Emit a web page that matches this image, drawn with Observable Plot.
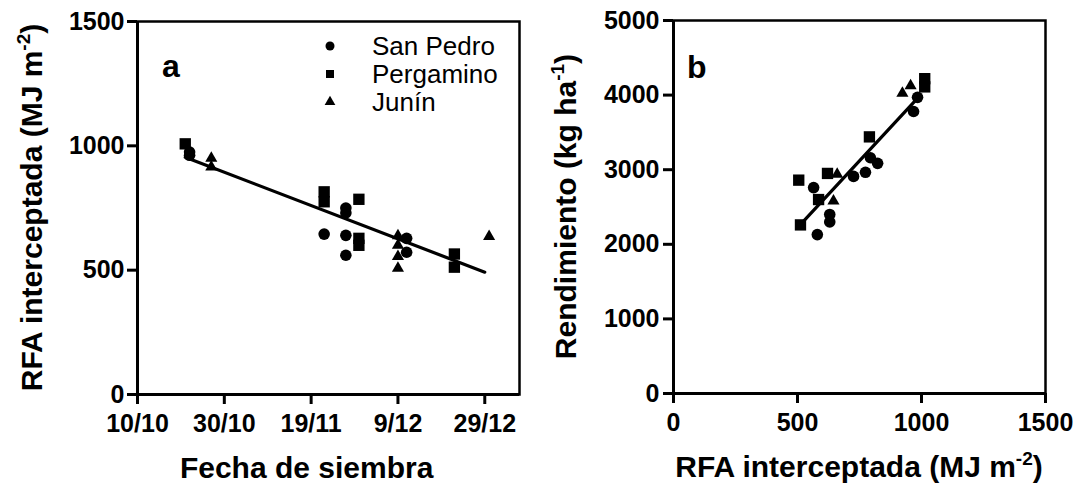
<!DOCTYPE html>
<html><head><meta charset="utf-8">
<script src="https://cdn.jsdelivr.net/npm/d3@7"></script>
<script src="https://cdn.jsdelivr.net/npm/@observablehq/plot@0.6"></script>
<style>
body{margin:0;background:#fff;}
#wrap{position:relative;width:1087px;height:486px;background:#fff;}
#wrap svg{position:absolute;top:0;overflow:visible;}
</style></head><body><div id="wrap"></div>
<script>
// ---------- Panel a : Fecha de siembra vs RFA interceptada ----------
const xDomainA = ["2011-10-10","2012-01-06"];
const tickDatesA = ["2011-10-10","2011-10-30","2011-11-19","2011-12-09","2011-12-29"];
const tickLabelsA = ["10/10","30/10","19/11","9/12","29/12"];
const yTicksA = [0,500,1000,1500];

const sanPedroDateA = ["2011-10-22","2011-10-22","2011-11-22","2011-11-27","2011-11-27","2011-11-27","2011-11-27","2011-12-11","2011-12-11"];
const sanPedroRfaA  = [975,962,645,750,730,640,560,628,572];
const pergaminoDateA = ["2011-10-21","2011-11-22","2011-11-22","2011-11-30","2011-11-30","2011-11-30","2011-12-22","2011-12-22"];
const pergaminoRfaA  = [1008,815,775,785,628,600,565,512];
const juninDateA = ["2011-10-27","2011-10-27","2011-12-09","2011-12-09","2011-12-09","2011-12-09","2011-12-30"];
const juninRfaA  = [950,915,638,600,555,508,635];
const fitDateA = ["2011-10-21","2011-12-29"];
const fitRfaA  = [954,492];

// ---------- Panel b : RFA interceptada vs Rendimiento ----------
const xTicksB = [0,500,1000,1500];
const yTicksB = [0,1000,2000,3000,4000,5000];
const sanPedroRfaB  = [565,580,630,630,726,774,794,823,968,984];
const sanPedroRendB = [2760,2130,2400,2300,2910,2965,3160,3085,3780,3970];
const pergaminoRfaB  = [505,512,621,585,790,1013,1013];
const pergaminoRendB = [2860,2260,2950,2600,3440,4220,4110];
const juninRfaB  = [923,956,660,645];
const juninRendB = [4025,4125,2940,2580];
const fitRfaB  = [505,990];
const fitRendB = [2240,3980];

const legendNames = ["San Pedro","Pergamino","Junín"];
const legendSymbols = ["circle","square","triangle"];

const FONT = "'Liberation Sans', Arial, Helvetica, sans-serif";
const toRows = (xs, ys, isDate) => xs.map((x, i) => ({x: isDate ? new Date(x) : x, y: ys[i]}));

function dotsFor(rows, sym) {
  const r = sym === "circle" ? 5.8 : sym === "square" ? 6.4 : 4.5;
  return Plot.dot(rows, {x: "x", y: "y", symbol: sym, r, fill: "#000", stroke: "none"});
}

const common = {
  height: 486,
  style: {fontFamily: FONT, fontSize: "25px", fontWeight: "bold", color: "#000", background: "transparent", overflow: "visible"}
};
const axisOpts = {tickSize: 10, strokeWidth: 3, label: null, fontSize: 25, fontWeight: "bold", fill: "#000"};

const tickDateObjs = tickDatesA.map(d => new Date(d));
const plotA = Plot.plot({
  ...common, width: 540,
  marginLeft: 137, marginRight: 21, marginTop: 21, marginBottom: 92,
  x: {type: "utc", domain: xDomainA.map(d => new Date(d))},
  y: {domain: [0, 1500]},
  marks: [
    Plot.frame({stroke: "#000", strokeWidth: 2.5}),
    Plot.ruleY([0], {stroke: "#000", strokeWidth: 3}),
    Plot.ruleX([new Date(xDomainA[0])], {stroke: "#000", strokeWidth: 3}),
    Plot.axisX({...axisOpts, ticks: tickDateObjs, tickPadding: 10,
      tickFormat: d => tickLabelsA[tickDateObjs.findIndex(t => +t === +d)]}),
    Plot.axisY({...axisOpts, ticks: yTicksA, tickPadding: 3, tickFormat: d => String(d)}),
    Plot.line(toRows(fitDateA, fitRfaA, true), {x: "x", y: "y", stroke: "#000", strokeWidth: 3.2}),
    dotsFor(toRows(sanPedroDateA, sanPedroRfaA, true), "circle"),
    dotsFor(toRows(pergaminoDateA, pergaminoRfaA, true), "square"),
    dotsFor(toRows(juninDateA, juninRfaA, true), "triangle")
  ]
});

const plotB = Plot.plot({
  ...common, width: 547,
  marginLeft: 133, marginRight: 42, marginTop: 20, marginBottom: 93,
  x: {domain: [0, 1500]},
  y: {domain: [0, 5000]},
  marks: [
    Plot.frame({stroke: "#000", strokeWidth: 2.5}),
    Plot.ruleY([0], {stroke: "#000", strokeWidth: 3}),
    Plot.ruleX([0], {stroke: "#000", strokeWidth: 3}),
    Plot.axisX({...axisOpts, ticks: xTicksB, tickPadding: 10, tickFormat: d => String(d)}),
    Plot.axisY({...axisOpts, ticks: yTicksB, tickPadding: 4, tickFormat: d => String(d)}),
    Plot.line(toRows(fitRfaB, fitRendB, false), {x: "x", y: "y", stroke: "#000", strokeWidth: 3.2}),
    dotsFor(toRows(sanPedroRfaB, sanPedroRendB, false), "circle"),
    dotsFor(toRows(pergaminoRfaB, pergaminoRendB, false), "square"),
    dotsFor(toRows(juninRfaB, juninRendB, false), "triangle")
  ]
});

const wrap = document.getElementById("wrap");
plotA.style.left = "0px";
plotB.style.left = "540px";
wrap.appendChild(plotA);
wrap.appendChild(plotB);

// titles with superscripts
function addTitle(svg, x, y, rotate, parts) {
  const t = d3.select(svg).append("text")
    .attr("transform", `translate(${x},${y})` + (rotate ? " rotate(-90)" : ""))
    .attr("text-anchor", "middle")
    .attr("font-family", FONT).attr("font-size", 30).attr("font-weight", "bold").attr("fill", "#000");
  parts.forEach(p => {
    const s = t.append("tspan").text(p.text);
    if (p.sup) s.attr("font-size", 19).attr("dy", -12);
    if (p.after) s.attr("dy", 12);
  });
}
function mid(r) { return (r[0] + r[1]) / 2; }

const sxA = plotA.scale("x"), ya = plotA.scale("y").range;
const xb = plotB.scale("x").range, yb = plotB.scale("y").range;
const tickMidA = (sxA.apply(tickDateObjs[0]) + sxA.apply(tickDateObjs[tickDateObjs.length - 1])) / 2;

addTitle(plotA, tickMidA - 4, 478, false, [{text: "Fecha de siembra"}]);
addTitle(plotA, 42, mid(ya), true, [{text: "RFA interceptada (MJ m"}, {text: "-2", sup: true}, {text: ")", after: true}]);
addTitle(plotB, mid(xb), 477, false, [{text: "RFA interceptada (MJ m"}, {text: "-2", sup: true}, {text: ")", after: true}]);
addTitle(plotB, 36, mid(yb), true, [{text: "Rendimiento (kg ha"}, {text: "-1", sup: true}, {text: ")", after: true}]);

// panel letters
d3.select(plotA).append("text").attr("x", 162).attr("y", 77).attr("text-anchor", "start").text("a")
  .attr("font-family", FONT).attr("font-size", 32).attr("font-weight", "bold").attr("fill", "#000");
d3.select(plotB).append("text").attr("x", 147).attr("y", 78).attr("text-anchor", "start").text("b")
  .attr("font-family", FONT).attr("font-size", 32).attr("font-weight", "bold").attr("fill", "#000");

// legend (panel a)
const lg = d3.select(plotA).append("g")
  .attr("font-family", FONT).attr("font-size", 26).attr("font-weight", "normal")
  .attr("text-anchor", "start").attr("fill", "#000");
legendNames.forEach((name, i) => {
  const cy = 46 + i * 28;
  const sym = {circle: d3.symbolCircle, square: d3.symbolSquare, triangle: d3.symbolTriangle}[legendSymbols[i]];
  const size = legendSymbols[i] === "circle" ? 64 : legendSymbols[i] === "square" ? 64 : 50;
  lg.append("path").attr("d", d3.symbol(sym, size)()).attr("transform", `translate(330,${cy})`).attr("fill", "#000");
  lg.append("text").attr("x", 372).attr("y", cy + 9).attr("font-weight", "normal").text(name);
});
</script>
</body></html>
